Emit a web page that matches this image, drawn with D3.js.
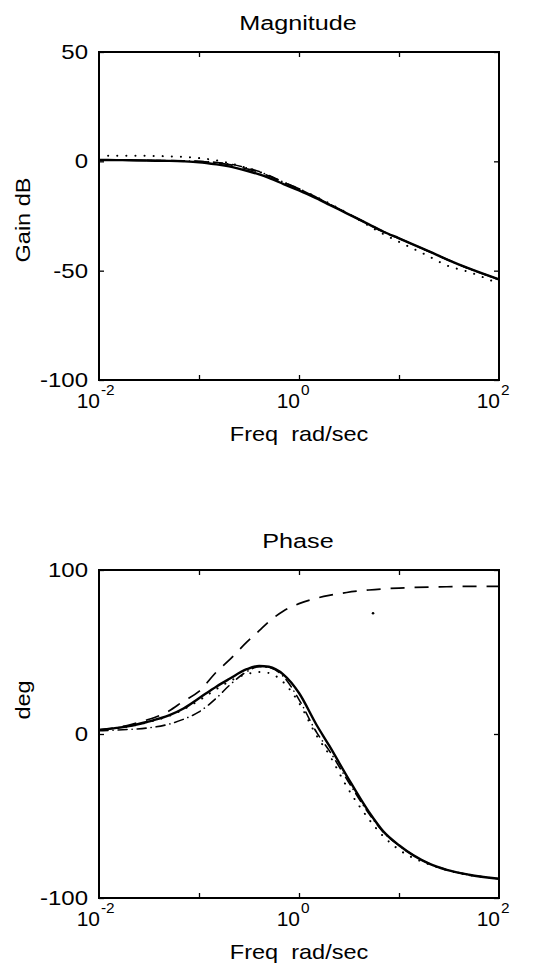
<!DOCTYPE html>
<html><head><meta charset="utf-8">
<script src="https://cdn.jsdelivr.net/npm/d3@7"></script>
<style>
html,body{margin:0;padding:0;background:#fff;}
svg text{font-family:"Liberation Sans",Arial,Helvetica,sans-serif;fill:#000;}
</style></head>
<body>
<svg id="chart" width="539" height="974"></svg>
<script>
// ---- data ----
const freqs = [0.01, 0.015, 0.02, 0.03, 0.05, 0.07, 0.1, 0.15, 0.2, 0.3, 0.4, 0.5, 0.7, 1, 1.5, 2, 3, 5, 7, 10, 20, 30, 50, 100];

const magSolid   = [0.6, 0.55, 0.5, 0.35, 0.2, 0.0, -0.4, -1.4, -2.3, -4.3, -6.0, -7.6, -10.4, -13.3, -17.0, -19.8, -23.8, -28.8, -32.2, -35.2, -41.2, -44.8, -49.0, -54.0];
const magDashed  = [0.6, 0.55, 0.5, 0.4, 0.3, 0.2, -0.1, -0.7, -1.5, -3.4, -5.0, -6.7, -9.6, -12.6, -16.5, -19.4, -23.6, -28.8, -32.2, -35.2, -41.2, -44.8, -49.0, -54.0];
const magDashDot = [0.6, 0.55, 0.5, 0.4, 0.3, 0.2, 0.0, -0.5, -1.2, -3.0, -4.7, -6.5, -9.5, -12.6, -16.6, -19.5, -23.7, -28.9, -32.3, -35.3, -41.3, -44.9, -49.1, -54.1];
const magDotted  = [2.6, 2.6, 2.55, 2.5, 2.3, 2.0, 1.5, 0.4, -0.8, -3.0, -4.8, -6.6, -9.6, -12.6, -16.4, -19.2, -23.5, -29.5, -33.3, -36.8, -43.5, -47.6, -50.6, -56.0];

const phaseSolid   = [2.5, 3.7, 4.8, 7.3, 11.3, 15.5, 21.8, 29.0, 33.5, 39.5, 41.5, 41.0, 36.2, 25.0, 5.5, -7.0, -25.5, -47.5, -59.5, -67.8, -79.0, -82.8, -85.8, -88.3];
const phaseDashed  = [2.5, 4.0, 5.5, 8.5, 14.0, 20.0, 26.0, 38.0, 45.0, 56.0, 63.0, 68.5, 75.0, 79.5, 82.8, 84.5, 86.3, 87.8, 88.5, 89.0, 89.6, 89.8, 90.0, 90.0];
const phaseDashDot = [2.0, 2.4, 2.8, 3.6, 6.0, 9.0, 13.5, 22.0, 29.5, 38.0, 41.0, 40.5, 35.0, 21.0, 1.0, -10.0, -27.5, -48.5, -60.0, -68.0, -79.0, -82.8, -85.8, -88.3];
const phaseDotted  = [2.5, 3.6, 4.6, 7.0, 11.0, 15.0, 20.5, 27.5, 32.0, 36.5, 37.8, 37.2, 31.5, 19.0, -1.0, -12.5, -32.0, -52.0, -62.5, -70.5, -79.5, -83.0, -86.0, -88.3];
const phaseStrayFreq = [5.5];
const phaseStrayVal  = [73.6];

const xLabelTicks = [0.01, 1, 100];
const xLabelExps  = ["-2", "0", "2"];
const xMinorTicks = [0.1, 1, 10];
const magTicks    = [50, 0, -50, -100];
const phaseTicks  = [100, 0, -100];

// ---- layout ----
const svg = d3.select("#chart");
const L = 99, R = 499;
const SX = 1.2;  // glyphs in the reference are wide
const x = d3.scaleLog().domain([0.01, 100]).range([L, R]);

const styles = {
  solid:   {w: 2.4, dash: null, cap: "butt"},
  dashed:  {w: 1.7, dash: "14,10", cap: "butt"},
  dashdot: {w: 1.6, dash: "9,5,0.1,5", cap: "round"},
  dotted:  {w: 2.0, dash: "0.1,9", cap: "round"}
};

function label(g, px, py, str, o) {
  const gg = g.append("g").attr("transform",
    `translate(${px},${py}) rotate(${o.rot || 0}) scale(${o.sx || SX},1)`);
  const t = gg.append("text").attr("text-anchor", o.anchor || "middle")
    .attr("font-size", o.size).attr("xml:space", "preserve").text(str);
  return t;
}

function panel(cfg) {
  const y = d3.scaleLinear().domain(cfg.domain).range([cfg.bottom, cfg.top]);
  const g = svg.append("g");

  // curves
  const line = d3.line().x(d => x(d[0])).y(d => y(d[1])).curve(d3.curveMonotoneX);
  cfg.series.forEach(s => {
    const st = styles[s.style];
    g.append("path")
      .attr("d", line(freqs.map((f, i) => [f, s.values[i]])))
      .attr("fill", "none").attr("stroke", "#000")
      .attr("stroke-width", st.w)
      .attr("stroke-dasharray", st.dash)
      .attr("stroke-linecap", st.cap)
      .attr("stroke-linejoin", "round");
  });
  if (cfg.stray) {
    g.selectAll("circle.stray").data(cfg.stray[0]).join("circle")
      .attr("cx", d => x(d)).attr("cy", (d, i) => y(cfg.stray[1][i]))
      .attr("r", 1.3).attr("fill", "#000");
  }

  // ticks (inward) on all four sides
  const gl = g.append("g").attr("transform", `translate(${L},0)`)
    .call(d3.axisLeft(y).tickValues(cfg.ticks).tickSize(-5).tickPadding(11).tickFormat(d => String(d)));
  const gr = g.append("g").attr("transform", `translate(${R},0)`)
    .call(d3.axisRight(y).tickValues(cfg.ticks).tickSize(-5).tickFormat(""));
  const gb = g.append("g").attr("transform", `translate(0,${cfg.bottom})`)
    .call(d3.axisBottom(x).tickValues(xMinorTicks).tickSize(-5).tickFormat(""));
  const gt = g.append("g").attr("transform", `translate(0,${cfg.top})`)
    .call(d3.axisTop(x).tickValues(xMinorTicks).tickSize(-5).tickFormat(""));
  [gl, gr, gb, gt].forEach(a => {
    a.select(".domain").remove();
    a.selectAll(".tick line").attr("stroke", "#000").attr("stroke-width", 1.3);
  });
  gl.selectAll(".tick text")
    .attr("font-size", 20).attr("font-family", "Liberation Sans, Arial, sans-serif").attr("fill", "#000")
    .attr("x", -11 / SX).attr("transform", `scale(${SX},1)`);

  // box
  g.append("rect").attr("x", L).attr("y", cfg.top)
    .attr("width", R - L).attr("height", cfg.bottom - cfg.top)
    .attr("fill", "none").attr("stroke", "#000").attr("stroke-width", 2);

  // x tick labels: 10 with superscript exponent
  xLabelTicks.forEach((t, i) => {
    label(g, x(t) + 1, cfg.bottom + 28, "10", {size: 20, anchor: "end", sx: 1.05});
    label(g, x(t) + 2, cfg.bottom + 15, xLabelExps[i], {size: 14, anchor: "start", sx: 1.1});
  });

  // x label, title, y label
  label(g, 299, cfg.bottom + 61, "Freq  rad/sec", {size: 21, sx: 1.12});
  label(g, 298, cfg.top - 22, cfg.title, {size: 21, sx: 1.2});
  label(g, 30, cfg.ylabelY, cfg.ylabel, {size: 21, rot: -90, sx: 1.12});
}

panel({
  top: 52, bottom: 380, domain: [-100, 50], ticks: magTicks,
  title: "Magnitude", ylabel: "Gain dB", ylabelY: 220,
  series: [
    {values: magDotted, style: "dotted"},
    {values: magDashDot, style: "dashdot"},
    {values: magDashed, style: "dashed"},
    {values: magSolid, style: "solid"}
  ]
});

panel({
  top: 570, bottom: 898, domain: [-100, 100], ticks: phaseTicks,
  title: "Phase", ylabel: "deg", ylabelY: 700,
  series: [
    {values: phaseDotted, style: "dotted"},
    {values: phaseDashDot, style: "dashdot"},
    {values: phaseDashed, style: "dashed"},
    {values: phaseSolid, style: "solid"}
  ],
  stray: [phaseStrayFreq, phaseStrayVal]
});
</script>
</body></html>
